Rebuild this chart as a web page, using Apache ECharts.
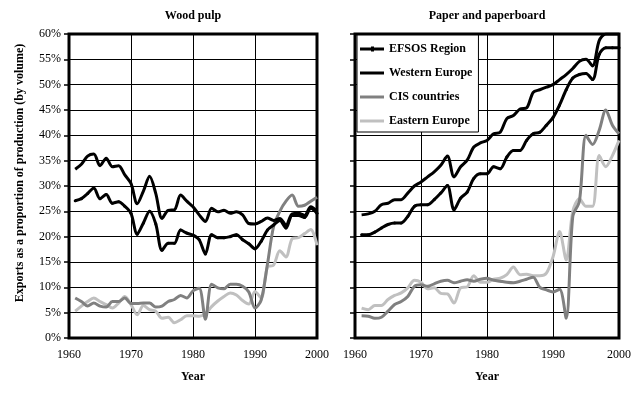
<!DOCTYPE html>
<html><head><meta charset="utf-8">
<script src="https://cdn.jsdelivr.net/npm/echarts@6/dist/echarts.min.js"></script>
<style>html,body{margin:0;padding:0;background:#fff}#c{width:642px;height:394px}</style>
</head><body><div id="c"></div><script>
const years = [1961,1962,1963,1964,1965,1966,1967,1968,1969,1970,1971,1972,1973,1974,1975,1976,1977,1978,1979,1980,1981,1982,1983,1984,1985,1986,1987,1988,1989,1990,1991,1992,1993,1994,1995,1996,1997,1998,1999,2000];
const seriesNames = ['EFSOS Region','Western Europe','CIS countries','Eastern Europe'];
const panelTitles = ['Wood pulp','Paper and paperboard'];
const xTicks = [1960,1970,1980,1990,2000];
const yTickFormat = '{value}%';

// Wood pulp (left panel), % of production exported
const pulpEFSOS = [27.1,27.5,28.5,29.6,27.5,28.3,26.6,26.9,26.0,24.6,20.5,22.7,25.0,22.5,17.3,18.7,18.7,21.3,20.7,20.3,19.4,16.6,20.4,19.8,19.8,20.0,20.4,19.4,18.6,17.6,19.1,21.3,22.3,23.2,21.7,24.2,24.2,23.8,25.6,24.6];
const pulpWestern = [33.3,34.3,35.9,36.3,34.0,35.5,33.8,34.0,32.2,30.5,26.5,29.0,31.9,28.5,23.6,25.2,25.3,28.2,27.0,25.9,24.3,23.0,25.6,24.9,25.2,24.6,24.9,24.3,22.6,22.5,23.0,23.7,23.2,23.6,22.3,24.5,24.6,24.2,25.9,25.0];
const pulpCIS = [7.9,7.2,6.3,6.9,6.3,6.1,7.2,7.2,7.9,6.8,6.8,6.9,6.9,6.1,6.3,7.2,7.6,8.4,7.9,9.3,9.8,3.7,10.6,9.9,9.7,10.6,10.6,10.2,9.1,5.9,7.5,14.5,22.0,25.0,27.0,28.2,26.0,26.2,27.0,27.8];
const pulpEastern = [5.3,6.3,7.2,7.9,7.2,6.6,5.9,6.9,8.2,6.6,4.6,6.4,5.6,5.3,3.9,4.1,3.0,3.6,4.4,4.4,4.3,4.8,6.2,7.3,8.2,8.9,8.5,7.4,6.7,9.2,7.9,14.0,14.4,17.2,16.0,19.6,19.8,20.6,21.4,18.3];

// Paper and paperboard (right panel)
const paperEFSOS = [20.4,20.4,20.9,21.7,22.4,22.7,22.7,24.0,26.0,26.3,26.3,27.3,28.6,30.1,25.3,27.6,28.8,31.5,32.4,32.4,33.8,33.4,35.7,37.0,37.0,39.0,40.3,40.6,42.0,43.5,46.0,49.0,51.3,52.0,52.2,51.0,56.0,57.3,57.3,57.3];
const paperWestern = [24.3,24.5,25.0,26.3,26.6,27.3,27.3,28.6,30.0,30.8,31.8,32.8,34.1,35.9,31.8,33.8,35.1,37.7,38.5,39.0,40.3,40.6,43.3,43.9,45.2,45.4,48.5,49.0,49.5,50.0,51.0,52.0,53.2,54.6,55.0,53.7,58.7,60.0,60.0,60.0];
const paperCIS = [4.4,4.3,3.9,4.1,5.3,6.6,7.2,8.2,10.2,10.5,10.2,10.7,11.2,11.4,10.9,11.2,11.5,11.2,11.6,11.8,11.4,11.2,11.0,10.9,11.2,11.6,12.0,10.0,9.5,9.1,9.6,3.9,24.0,27.0,40.0,38.2,41.0,45.0,42.0,40.3];
const paperEastern = [5.9,5.6,6.4,6.4,7.6,8.4,8.9,9.9,11.4,11.0,9.7,9.9,8.8,8.7,6.9,9.9,10.1,12.3,11.0,11.0,11.6,11.8,12.5,14.0,12.5,12.6,12.3,12.3,12.8,16.0,21.0,15.4,25.0,27.5,26.0,26.0,36.0,33.8,36.0,39.0];

const FONT = '"Liberation Serif","Times New Roman",serif';
const colors = {'EFSOS Region':'#000000','Western Europe':'#000000','CIS countries':'#808080','Eastern Europe':'#c0c0c0'};
const pair = arr => years.map((y,i)=>[y,arr[i]]);

function mkSeries(name, arr, idx){
  const isEF = name === 'EFSOS Region';
  return {
    type:'line', name, xAxisIndex:idx, yAxisIndex:idx, data:pair(arr),
    smooth:0.3, symbol: isEF ? 'circle' : 'none', symbolSize: isEF ? 3 : 0,
    showSymbol: isEF, animation:false, clip:true,
    lineStyle:{color:colors[name], width:3}, itemStyle:{color:colors[name]},
    z: name==='Eastern Europe'?2:(name==='CIS countries'?3:4)
  };
}

const grids = [
  {left:69, top:34, width:248, height:304},
  {left:355, top:34, width:264, height:304}
].map(g=>Object.assign(g,{show:true, borderColor:'#000', borderWidth:3, backgroundColor:'#fff'}));

const xAxes = [0,1].map(i=>({
  type:'value', gridIndex:i, min:xTicks[0], max:xTicks[xTicks.length-1], interval:10,
  axisLine:{show:false}, axisTick:{show:false},
  axisLabel:{fontFamily:FONT, fontSize:12, color:'#000', margin:11, formatter:v=>String(v)},
  splitLine:{show:true, lineStyle:{color:'#000', width:1}}
}));
const yAxes = [0,1].map(i=>({
  type:'value', gridIndex:i, min:0, max:60, interval:5,
  axisLine:{show:false},
  axisTick:{show:true, length:5, lineStyle:{color:'#000', width:1.5}},
  axisLabel:{show:i===0, formatter:yTickFormat, fontFamily:FONT, fontSize:12, color:'#000', margin:8},
  splitLine:{show:true, lineStyle:{color:'#000', width:1}}
}));

const series = [
  mkSeries('Eastern Europe', pulpEastern, 0),
  mkSeries('CIS countries', pulpCIS, 0),
  mkSeries('EFSOS Region', pulpEFSOS, 0),
  mkSeries('Western Europe', pulpWestern, 0),
  mkSeries('Eastern Europe', paperEastern, 1),
  mkSeries('CIS countries', paperCIS, 1),
  mkSeries('EFSOS Region', paperEFSOS, 1),
  mkSeries('Western Europe', paperWestern, 1)
];

const lineIcon = 'path://M0,0 L24,0 L24,3 L0,3 Z';
const markIcon = 'path://M0,1 L24,1 L24,4 L0,4 Z M11,0 L14,0 L14,5 L11,5 Z';

const txt = (text, x, y, extra) => Object.assign({type:'text', x, y, z:100,
  style:{text, font:'bold 12px '+FONT, fill:'#000', align:'center', verticalAlign:'middle'}}, extra||{});

const chart = echarts.init(document.getElementById('c'), null, {renderer:'canvas'});
chart.setOption({
  backgroundColor:'#fff',
  animation:false,
  grid:grids, xAxis:xAxes, yAxis:yAxes, series,
  legend:{
    data:seriesNames.map(n=>({name:n, icon: n==='EFSOS Region' ? markIcon : lineIcon})),
    orient:'vertical', left:357, top:35,
    padding:[8,6,5,3], itemGap:12, itemWidth:24, itemHeight:14,
    backgroundColor:'#fff', borderColor:'#000', borderWidth:1,
    selectedMode:false,
    textStyle:{fontFamily:FONT, fontWeight:'bold', fontSize:12, color:'#000'}
  },
  graphic:[
    txt(panelTitles[0], 193, 16),
    txt(panelTitles[1], 487, 16),
    txt('Year', 193, 377),
    txt('Year', 487, 377),
    txt('Exports as a proportion of production (by volume)', 20, 173, {rotation:Math.PI/2})
  ]
});
</script></body></html>
